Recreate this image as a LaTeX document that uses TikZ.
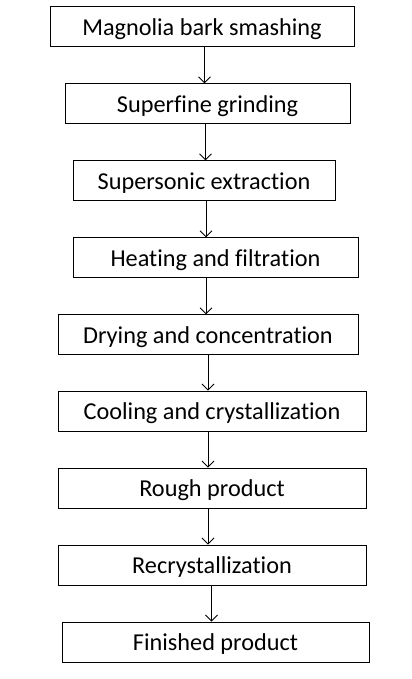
\documentclass[tikz,border=0pt]{standalone}
\usepackage{fontspec}
\setmainfont{Carlito}[Ligatures=NoCommon]
\usetikzlibrary{arrows.meta}

\tikzset{
	stage/.style={draw, line width=0.75pt, inner sep=0pt, minimum height=29.5pt,
		text height=12.75pt, text depth=0pt, font=\fontsize{18.2}{22}\selectfont},
	flow/.style={->, line width=0.6pt}
}

\begin{document}
\begin{tikzpicture}[x=0.75pt, y=-0.75pt, >={Straight Barb[length=4.5pt,width=9pt]}]
	\useasboundingbox (0,0) rectangle (411,679);

	\node[stage, minimum width=228pt] (smash) at (202,26.5) {Magnolia bark smashing};
	\node[stage, minimum width=213.75pt] (grind) at (207.5,103.5) {Superfine grinding};
	\node[stage, minimum width=196.5pt] (extract) at (204,180.5) {Supersonic extraction};
	\node[stage, minimum width=213.75pt] (heat) at (215.5,257.5) {Heating and filtration};
	\node[stage, minimum width=225pt] (dry) at (208,334.5) {Drying and concentration};
	\node[stage, minimum width=231pt, minimum height=30pt] (cool) at (212,411) {Cooling and crystallization};
	\node[stage, minimum width=231pt, minimum height=30pt] (rough) at (212,488) {Rough product};
	\node[stage, minimum width=231pt, minimum height=30pt] (recryst) at (212,565) {Recrystallization};
	\node[stage, minimum width=230.25pt, minimum height=30pt] (finish) at (215.5,642) {Finished product};

	\draw [flow] (204.5,0 |- smash.south) -- (204.5,0 |- grind.north) ;
	\draw [flow] (205.5,0 |- grind.south) -- (205.5,0 |- extract.north) ;
	\draw [flow] (206,0 |- extract.south) -- (206,0 |- heat.north) ;
	\draw [flow] (206,0 |- heat.south) -- (206,0 |- dry.north) ;
	\draw [flow] (208,0 |- dry.south) -- (208,0 |- cool.north) ;
	\draw [flow] (208,0 |- cool.south) -- (208,0 |- rough.north) ;
	\draw [flow] (208,0 |- rough.south) -- (208,0 |- recryst.north) ;
	\draw [flow] (211.5,0 |- recryst.south) -- (211.5,0 |- finish.north) ;

\end{tikzpicture}
\end{document}
